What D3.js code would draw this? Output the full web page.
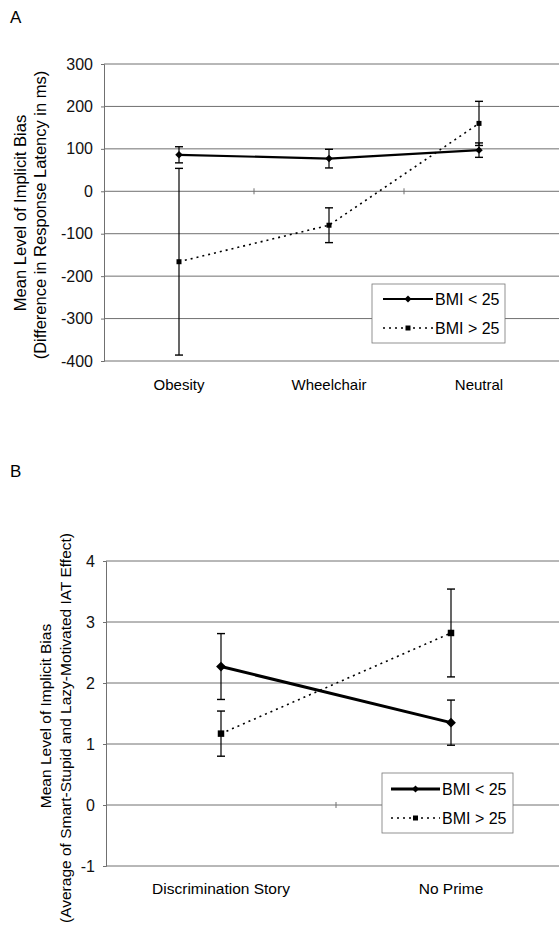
<!DOCTYPE html>
<html>
<head>
<meta charset="utf-8">
<script src="https://cdn.jsdelivr.net/npm/d3@7"></script>
<style>
  body { margin: 0; background: #fff; }
  svg { display: block; font-family: "Liberation Sans", Arial, sans-serif; }
</style>
</head>
<body>
<svg width="559" height="926"></svg>
<script>
"use strict";

// Data.

var seriesNames = ["BMI < 25", "BMI > 25"];

var catsA = ["Obesity", "Wheelchair", "Neutral"];
var lowMeansA = [86, 77, 97];
var lowErrA = [19, 22, 17];
var highMeansA = [-166, -80, 160];
var highErrA = [220, 41, 52];
var ticksA = [300, 200, 100, 0, -100, -200, -300, -400];

var catsB = ["Discrimination Story", "No Prime"];
var lowMeansB = [2.27, 1.35];
var lowErrB = [0.54, 0.37];
var highMeansB = [1.17, 2.82];
var highErrB = [0.37, 0.72];
var ticksB = [4, 3, 2, 1, 0, -1];

var svg = d3.select("svg");
var W = +svg.attr("width");

var GridColor = "#707070";

// Diamond = square turned by 45 degrees.
var marker = function(solid, size){
    return d3.symbol().type(d3.symbolSquare).size(size)();
};
var markerTransform = function(solid, x, y){
    return "translate(" + x + "," + y + ")" + (solid ? " rotate(45)" : "");
};

var drawPanel = function(p){
    var g = svg.append("g");

    var x = d3.scaleBand().domain(p.cats).range([p.left, p.right]);
    var y = d3.scaleLinear().domain(d3.extent(p.ticks)).range([p.bottom, p.top]);
    var cx = function(c){ return x(c) + x.bandwidth()/2; };

    // Panel letter.
    g.append("text").attr("x", 10).attr("y", p.letterY)
        .style("font-size", "17px").text(p.letter);

    // Gridlines.
    g.selectAll("line.grid").data(p.ticks).enter().append("line")
        .attr("x1", p.left).attr("x2", W)
        .attr("y1", function(d){ return y(d); })
        .attr("y2", function(d){ return y(d); })
        .style("stroke", GridColor).style("stroke-width", 1);

    // Y axis (plain hyphen minus, as in the figure).
    var ax = d3.axisLeft(y).tickValues(p.ticks).tickSize(3).tickPadding(8)
        .tickFormat(function(d){ return String(d); });
    var axg = g.append("g").attr("transform", "translate(" + p.left + ",0)").call(ax);
    axg.select(".domain").style("stroke", GridColor);
    axg.selectAll(".tick line").style("stroke", GridColor);
    axg.selectAll(".tick text").style("font-size", "16px").style("fill", "#111")
        .attr("font-family", "Liberation Sans, Arial, sans-serif");

    // Category boundary ticks on the zero line.
    var bounds = p.cats.slice(1).map(function(c){ return x(c); });
    g.selectAll("line.ctick").data(bounds).enter().append("line")
        .attr("x1", function(d){ return d; }).attr("x2", function(d){ return d; })
        .attr("y1", y(0) - 3).attr("y2", y(0) + 3)
        .style("stroke", GridColor);

    // Category labels.
    g.selectAll("text.cat").data(p.cats).enter().append("text")
        .attr("x", function(d){ return cx(d); })
        .attr("y", p.catY)
        .attr("text-anchor", "middle")
        .style("font-size", p.catSize + "px")
        .text(function(d){ return d; });

    // Y titles.
    p.titles.forEach(function(t, i){
        g.append("text")
            .attr("transform", "translate(" + p.titleX[i] + "," + p.titleY[i] + ") rotate(-90)")
            .attr("text-anchor", "middle")
            .attr("dominant-baseline", "central")
            .style("font-size", p.titleSize + "px")
            .text(t);
    });

    var series = [
        {means: p.lowMeans, errs: p.lowErr, solid: true},
        {means: p.highMeans, errs: p.highErr, solid: false}
    ];

    // Error bars.
    series.forEach(function(s){
        var pts = p.cats.map(function(c, i){ return {c: c, m: s.means[i], e: s.errs[i]}; });
        var eb = g.append("g");
        eb.selectAll("line.v").data(pts).enter().append("line")
            .attr("x1", function(d){ return cx(d.c); }).attr("x2", function(d){ return cx(d.c); })
            .attr("y1", function(d){ return y(d.m + d.e); })
            .attr("y2", function(d){ return y(d.m - d.e); })
            .style("stroke", "#000").style("stroke-width", 1.2);
        [1, -1].forEach(function(sg){
            eb.selectAll("line.c" + sg).data(pts).enter().append("line")
                .attr("x1", function(d){ return cx(d.c) - 4; })
                .attr("x2", function(d){ return cx(d.c) + 4; })
                .attr("y1", function(d){ return y(d.m + sg*d.e); })
                .attr("y2", function(d){ return y(d.m + sg*d.e); })
                .style("stroke", "#000").style("stroke-width", 1.4);
        });
    });

    // Lines and markers.
    series.forEach(function(s){
        var line = d3.line()
            .x(function(d, i){ return cx(p.cats[i]); })
            .y(function(d){ return y(d); });
        g.append("path").datum(s.means).attr("d", line)
            .style("fill", "none").style("stroke", "#000")
            .style("stroke-width", s.solid ? p.solidWidth : 1.6)
            .style("stroke-dasharray", s.solid ? null : "2,4");
        g.selectAll(null).data(s.means).enter().append("path")
            .attr("d", marker(s.solid, s.solid ? p.diamondSize : p.squareSize))
            .attr("transform", function(d, i){ return markerTransform(s.solid, cx(p.cats[i]), y(d)); })
            .style("fill", "#000");
    });

    // Legend.
    var L = p.legend;
    var lg = g.append("g");
    lg.append("rect").attr("x", L.x).attr("y", L.y).attr("width", L.w).attr("height", L.h)
        .style("fill", "#fff").style("stroke", "#777").style("stroke-width", 0.8);
    seriesNames.forEach(function(name, i){
        var ry = L.y + L.row0 + i*L.rowGap;
        var solid = i === 0;
        lg.append("line").attr("x1", L.lx1).attr("x2", L.lx2).attr("y1", ry).attr("y2", ry)
            .style("stroke", "#000")
            .style("stroke-width", solid ? p.solidWidth : 1.6)
            .style("stroke-dasharray", solid ? null : "2,4");
        lg.append("path")
            .attr("d", marker(solid, solid ? 24 : 25))
            .attr("transform", markerTransform(solid, (L.lx1 + L.lx2)/2, ry))
            .style("fill", "#000");
        lg.append("text").attr("x", L.lx2 + 2).attr("y", ry).attr("dominant-baseline", "central")
            .style("font-size", "16px").text(name);
    });
};

drawPanel({
    letter: "A", letterY: 23,
    cats: catsA, ticks: ticksA,
    lowMeans: lowMeansA, lowErr: lowErrA, highMeans: highMeansA, highErr: highErrA,
    left: 104, right: 554, top: 64, bottom: 361,
    catY: 390, catSize: 15, solidWidth: 2.2,
    diamondSize: 28, squareSize: 25,
    titles: ["Mean Level of Implicit Bias", "(Difference in Response Latency in ms)"],
    titleX: [20, 39.5], titleY: [213, 215], titleSize: 16.5,
    legend: {x: 372, y: 284, w: 133, h: 59, row0: 15, rowGap: 29, lx1: 383, lx2: 433}
});

drawPanel({
    letter: "B", letterY: 477,
    cats: catsB, ticks: ticksB,
    lowMeans: lowMeansB, lowErr: lowErrB, highMeans: highMeansB, highErr: highErrB,
    left: 106, right: 566, top: 561, bottom: 866,
    catY: 894, catSize: 15.5, solidWidth: 3,
    diamondSize: 48, squareSize: 42,
    titles: ["Mean Level of Implicit Bias", "(Average of Smart-Stupid and Lazy-Motivated IAT Effect)"],
    titleX: [45.5, 65.5], titleY: [716, 728], titleSize: 15.5,
    legend: {x: 382, y: 773, w: 131, h: 60, row0: 16, rowGap: 29, lx1: 391, lx2: 440}
});
</script>
</body>
</html>
